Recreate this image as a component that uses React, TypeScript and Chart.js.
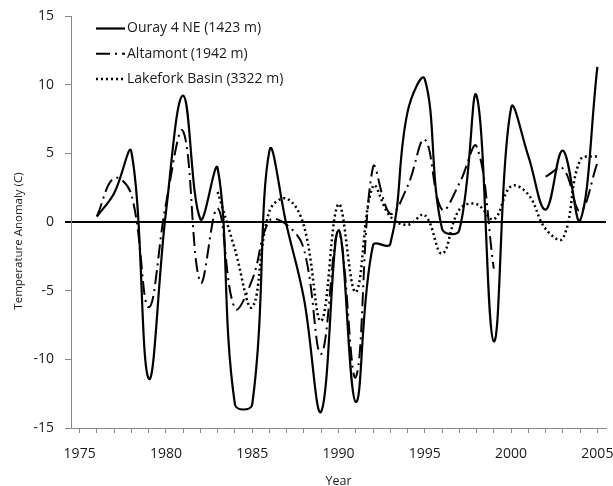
import React, { useEffect, useRef } from 'react';
import { Chart, registerables } from 'chart.js';

Chart.register(...registerables);

const years = [
  '1975', '1976', '1977', '1978', '1979', '1980', '1981', '1982', '1983', '1984',
  '1985', '1986', '1987', '1988', '1989', '1990', '1991', '1992', '1993', '1994',
  '1995', '1996', '1997', '1998', '1999', '2000', '2001', '2002', '2003', '2004', '2005',
];

const ouray: (number | null)[] = [
  null, 0.4, 2.1, 5.1, -11.4, 0.7, 9.2, 0.2, 3.9, -13.3,
  -13.3, 5.2, -0.3, -5.6, -13.8, -0.6, -13.1, -1.7, -1.6, 8.0,
  10.4, -0.5, -0.6, 9.2, -8.7, 8.3, 4.8, 0.9, 5.2, 0.1, 11.3,
];

const altamont: (number | null)[] = [
  null, 0.4, 3.2, 2.0, -6.2, 1.3, 6.6, -4.4, 1.0, -6.3,
  -4.2, 0.1, -0.2, -2.0, -9.6, -0.7, -11.3, 4.0, 0.6, 2.6,
  6.0, 0.9, 2.8, 5.5, -3.4, null, null, 3.3, 3.9, 0.8, 4.3,
];

const lakefork: (number | null)[] = [
  null, null, null, null, null, null, null, null, 2.2, -2.0,
  -6.2, 0.8, 1.7, -0.3, -7.2, 1.3, -5.1, 2.6, 0.4, -0.2,
  0.5, -2.3, 0.9, 1.3, 0.2, 2.6, 2.0, -0.5, -1.2, 4.5, 4.8,
];

const seriesLabels = ['Ouray 4 NE (1423 m)', 'Altamont (1942 m)', 'Lakefork Basin (3322 m)'];
const yTitle = 'Temperature Anomaly (C)';
const xTitle = 'Year';

const FONT = "'Open Sans', sans-serif";

const overlayPlugin = {
  id: 'overlay',
  afterDraw(chart: any) {
    const ctx = chart.ctx as CanvasRenderingContext2D;
    // y axis title
    ctx.save();
    ctx.translate(19, 241);
    ctx.rotate(-Math.PI / 2);
    ctx.font = `11.5px ${FONT}`;
    ctx.fillStyle = '#1a1a1a';
    ctx.textAlign = 'center';
    ctx.textBaseline = 'middle';
    ctx.fillText(yTitle, 0, 0);
    ctx.restore();
    // legend
    chart.data.datasets.forEach((ds: any, i: number) => {
      const y = 28.5 + i * 25.3;
      ctx.save();
      ctx.strokeStyle = '#000';
      ctx.lineWidth = ds.borderWidth;
      ctx.setLineDash(ds.borderDash || []);
      ctx.beginPath();
      ctx.moveTo(96, y);
      ctx.lineTo(125, y);
      ctx.stroke();
      ctx.setLineDash([]);
      ctx.font = `14px ${FONT}`;
      ctx.fillStyle = '#1a1a1a';
      ctx.textAlign = 'left';
      ctx.textBaseline = 'middle';
      ctx.fillText(ds.label, 127, y);
      ctx.restore();
    });
  },
};

export default function App() {
  const ref = useRef<HTMLCanvasElement>(null);

  useEffect(() => {
    if (!ref.current) return;
    Chart.defaults.font.family = FONT;
    const chart = new Chart(ref.current, {
      type: 'line',
      data: {
        labels: years,
        datasets: [
          {
            label: seriesLabels[0],
            data: ouray,
            borderColor: '#000',
            borderWidth: 2.2,
            borderDash: [],
            tension: 0.4,
            pointRadius: 0,
            spanGaps: false,
          },
          {
            label: seriesLabels[1],
            data: altamont,
            borderColor: '#000',
            borderWidth: 2,
            borderDash: [14, 5, 2, 5],
            tension: 0.4,
            pointRadius: 0,
            spanGaps: false,
          },
          {
            label: seriesLabels[2],
            data: lakefork,
            borderColor: '#000',
            borderWidth: 2.5,
            borderDash: [2, 3],
            tension: 0.4,
            pointRadius: 0,
            spanGaps: false,
          },
        ],
      },
      options: {
        responsive: false,
        animation: false,
        layout: { padding: { top: 16, right: 7, left: 0, bottom: 0 } },
        plugins: {
          legend: { display: false },
          tooltip: { enabled: false },
        },
        scales: {
          x: {
            type: 'category',
            offset: true,
            grid: {
              display: true,
              drawOnChartArea: false,
              offset: false,
              tickLength: 5,
              color: '#888',
              tickColor: '#888',
            },
            border: { color: '#888', width: 1 },
            ticks: {
              autoSkip: false,
              maxRotation: 0,
              padding: 13,
              color: '#1a1a1a',
              font: { size: 14 },
              callback: (_v: any, i: number) => (Number(years[i]) % 5 === 0 ? years[i] : ''),
            },
            title: {
              display: true,
              text: xTitle,
              color: '#1a1a1a',
              font: { size: 12.5 },
              padding: { top: 0, bottom: -3 },
            },
            afterFit: (s: any) => {
              s.height = 58;
              s.paddingLeft = 0;
              s.paddingRight = 0;
            },
          },
          y: {
            min: -15,
            max: 15,
            ticks: { stepSize: 5, padding: 11, color: '#1a1a1a', font: { size: 14 } },
            grid: {
              drawOnChartArea: true,
              tickLength: 6,
              color: (c: any) => (c.tick && c.tick.value === 0 ? '#000' : 'rgba(0,0,0,0)'),
              lineWidth: (c: any) => (c.tick && c.tick.value === 0 ? 2 : 1),
              tickColor: (c: any) => (c.tick && c.tick.value === 0 ? '#000' : '#888'),
            },
            border: { color: '#888', width: 1 },
            afterFit: (s: any) => {
              s.width = 71;
              s.paddingTop = 0;
              s.paddingBottom = 0;
            },
          },
        },
      },
      plugins: [overlayPlugin],
    });
    return () => chart.destroy();
  }, []);

  return (
    <div style={{ position: 'absolute', left: 0, top: 0, width: 613, height: 486 }}>
      <canvas ref={ref} width={613} height={486} style={{ display: 'block', width: 613, height: 486 }} />
    </div>
  );
}
